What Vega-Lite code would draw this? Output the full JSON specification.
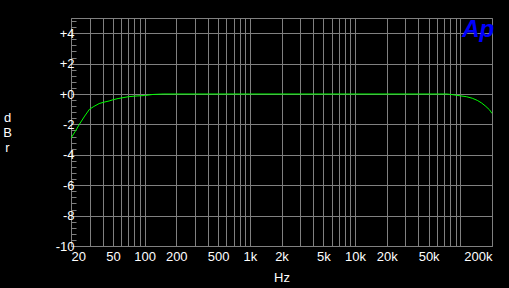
{
  "$schema": "https://vega.github.io/schema/vega-lite/v6.json",
  "width": 421,
  "height": 228,
  "autosize": "none",
  "padding": {"left": 71, "top": 18, "right": 17, "bottom": 42},
  "background": "#000000",
  "config": {
    "view": {"stroke": "#808080", "strokeWidth": 1},
    "axis": {"labelFont": "Liberation Sans", "titleFont": "Liberation Sans", "labelColor": "#ffffff", "titleColor": "#ffffff", "labelFontSize": 13, "titleFontSize": 13, "titleFontWeight": "normal", "domain": false, "gridColor": "#808080", "gridOpacity": 1, "gridWidth": 1}
  },
  "datasets": {
    "curve": [
      {"freq": 20, "dbr": -2.9},
      {"freq": 22, "dbr": -2.45},
      {"freq": 24, "dbr": -2.0},
      {"freq": 27, "dbr": -1.45},
      {"freq": 30, "dbr": -1.0},
      {"freq": 33, "dbr": -0.82},
      {"freq": 37, "dbr": -0.63},
      {"freq": 41, "dbr": -0.54},
      {"freq": 46, "dbr": -0.46},
      {"freq": 50, "dbr": -0.38},
      {"freq": 56, "dbr": -0.3},
      {"freq": 70, "dbr": -0.18},
      {"freq": 80, "dbr": -0.14},
      {"freq": 100, "dbr": -0.1},
      {"freq": 120, "dbr": -0.03},
      {"freq": 150, "dbr": 0},
      {"freq": 1000, "dbr": 0},
      {"freq": 10000, "dbr": 0},
      {"freq": 75000, "dbr": 0},
      {"freq": 85000, "dbr": -0.05},
      {"freq": 100000, "dbr": -0.12},
      {"freq": 115000, "dbr": -0.18},
      {"freq": 130000, "dbr": -0.28},
      {"freq": 145000, "dbr": -0.42},
      {"freq": 160000, "dbr": -0.6},
      {"freq": 175000, "dbr": -0.82},
      {"freq": 190000, "dbr": -1.05},
      {"freq": 200000, "dbr": -1.28}
    ],
    "logo": [{"freq": 148000, "dbr": 3.78, "text": "Ap"}]
  },
  "encoding": {
    "x": {
      "field": "freq", "type": "quantitative",
      "scale": {"type": "log", "domain": [20, 200000], "nice": false},
      "axis": {
        "title": "Hz",
        "values": [20,30,40,50,60,70,80,90,100,200,300,400,500,600,700,800,900,1000,2000,3000,4000,5000,6000,7000,8000,9000,10000,20000,30000,40000,50000,60000,70000,80000,90000,100000,200000],
        "labelExpr": "indexof([20,50,100,200,500,1000,2000,5000,10000,20000,50000,200000], datum.value) >= 0 ? (datum.value >= 1000 ? (datum.value/1000) + 'k' : '' + datum.value) : ''",
        "labelOverlap": false,
        "labelFlush": true,
        "labelPadding": 4,
        "ticks": false,
        "titlePadding": 8
      }
    },
    "y": {
      "field": "dbr", "type": "quantitative",
      "scale": {"domain": [-10, 5], "nice": false, "zero": false},
      "axis": {
        "title": ["d", "B", "r"],
        "titleAngle": 0,
        "titleX": -64,
        "titleY": 99,
        "titleAlign": "center",
        "titleBaseline": "middle",
        "titleLineHeight": 15,
        "values": [-10,-9.6,-9.2,-8.8,-8.4,-8,-7.6,-7.2,-6.8,-6.4,-6,-5.6,-5.2,-4.8,-4.4,-4,-3.6,-3.2,-2.8,-2.4,-2,-1.6,-1.2,-0.8,-0.4,0,0.4,0.8,1.2,1.6,2,2.4,2.8,3.2,3.6,4,4.4,4.8],
        "labelExpr": "abs(datum.value % 2) < 0.01 ? (datum.value > 0 ? '+' + datum.value : (datum.value == 0 ? '+0' : '' + datum.value)) : ''",
        "labelOverlap": false,
        "labelPadding": 2,
        "tickSize": -5,
        "tickColor": "#808080",
        "gridOpacity": {"condition": {"test": "abs(datum.value % 2) < 0.01", "value": 1}, "value": 0}
      }
    }
  },
  "layer": [
    {
      "data": {"name": "curve"},
      "mark": {"type": "line", "color": "#00ff00", "strokeWidth": 1, "clip": true}
    },
    {
      "data": {"name": "logo"},
      "mark": {"type": "text", "color": "#0000ff", "font": "Liberation Sans", "fontSize": 24, "fontWeight": "bold", "fontStyle": "italic", "align": "center", "baseline": "alphabetic"},
      "encoding": {
        "text": {"field": "text"}
      }
    }
  ]
}
